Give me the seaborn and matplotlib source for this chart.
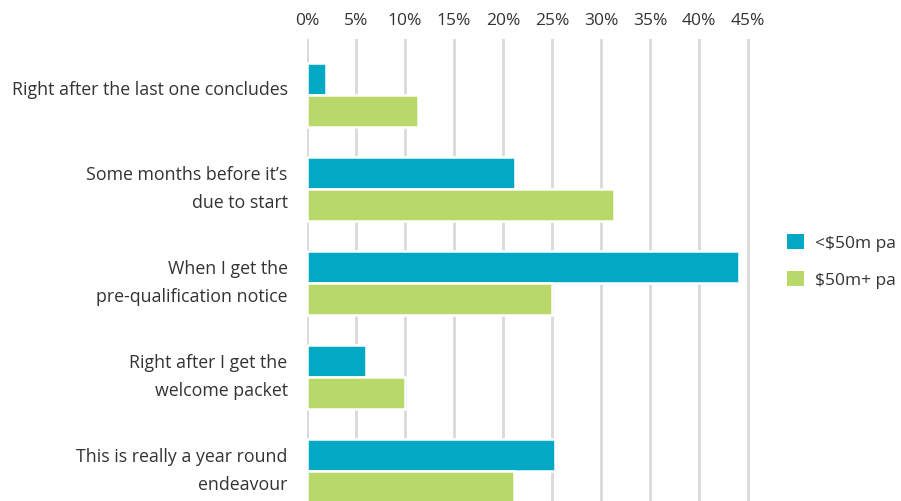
import pandas as pd
import matplotlib.pyplot as plt
import matplotlib.transforms as mtransforms
import seaborn as sns
from matplotlib.patches import Patch

# dados (% de respondentes)
categorias = ["Right after the last one concludes",
              "Some months before it’s\ndue to start",
              "When I get the\npre-qualification notice",
              "Right after I get the\nwelcome packet",
              "This is really a year round\nendeavour"]
grupos = ["<$50m pa", "$50m+ pa"]
valores_menor = [1.9, 21.2, 44.1, 6.0, 25.3]
valores_maior = [11.3, 31.3, 25.0, 10.0, 21.1]
ticks_x = [0, 5, 10, 15, 20, 25, 30, 35, 40, 45]

cores = {"<$50m pa": "#03a8c4", "$50m+ pa": "#b8d86a"}

df = pd.DataFrame({
    "Categoria": categorias * 2,
    "Grupo": [grupos[0]] * 5 + [grupos[1]] * 5,
    "Valor": valores_menor + valores_maior,
})

sns.set_style("white")
plt.rcParams['font.family'] = ['Open Sans', 'DejaVu Sans']

fig = plt.figure(figsize=(9.01, 5.02), dpi=100)
# 0% em x=307px, 45% em x=748px
ax = fig.add_axes([0.3407, 0.0, 0.4895 * 46 / 45, 0.920])

sns.barplot(data=df, y="Categoria", x="Valor", hue="Grupo", palette=cores,
            order=categorias, hue_order=grupos, orient="h", width=0.68,
            saturation=1, edgecolor="white", linewidth=1.8, legend=False,
            ax=ax, zorder=3)

ax.set_xlim(0, 46)
ax.set_ylim(4.32, -0.59)
ax.set_xticks(ticks_x)
ax.set_xticklabels([f"{t}%" for t in ticks_x])
ax.xaxis.tick_top()
ax.grid(axis="x", color="#d9d9d9", linewidth=2, zorder=0)
ax.grid(axis="y", visible=False)
ax.tick_params(axis="x", length=0, pad=8, labelsize=12.5, labelcolor="#333333")
ax.tick_params(axis="y", length=0, pad=14, labelsize=12.8, labelcolor="#333333")
# rótulos um pouco acima do centro do grupo, como no original
desloc = mtransforms.ScaledTranslation(0, 8 / 100, fig.dpi_scale_trans)
for lbl in ax.get_yticklabels():
    lbl.set_linespacing(1.7)
    lbl.set_transform(lbl.get_transform() + desloc)
for s in ax.spines.values():
    s.set_visible(False)
ax.set_xlabel("")
ax.set_ylabel("")

handles = [Patch(facecolor=cores[g], edgecolor="none") for g in grupos]
fig.legend(handles, grupos, loc="center left", bbox_to_anchor=(0.856, 0.478),
           frameon=False, fontsize=12.5, handlelength=1.0, handleheight=1.0,
           handletextpad=0.6, labelspacing=1.1, labelcolor="#333333")

fig.savefig("out.png", dpi=100)
